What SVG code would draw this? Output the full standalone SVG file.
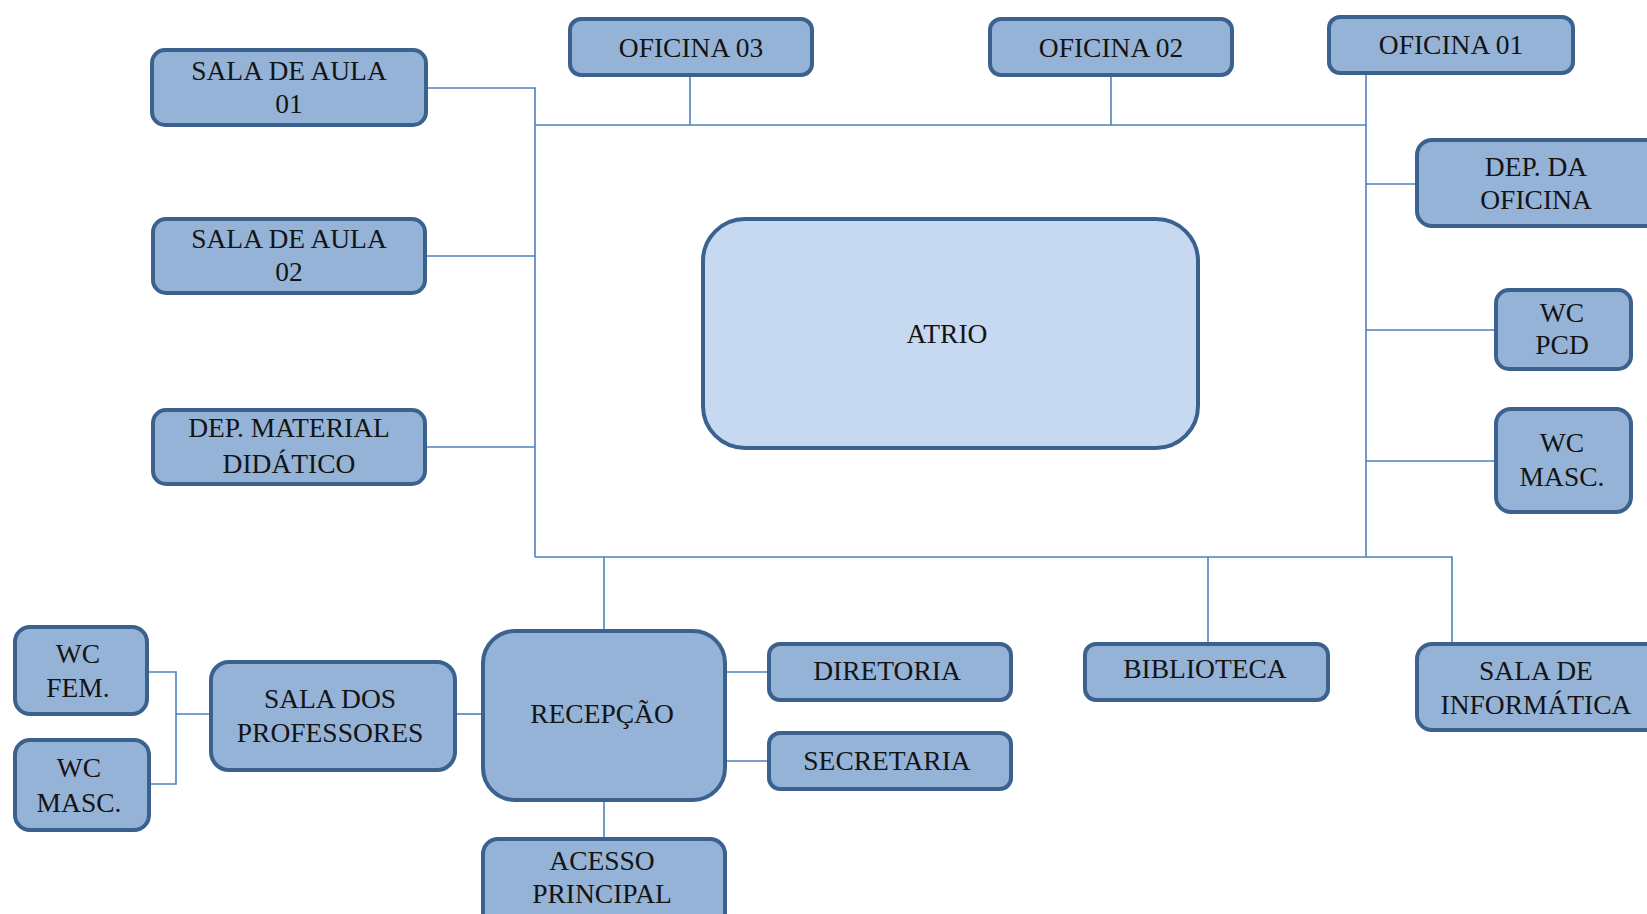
<svg xmlns="http://www.w3.org/2000/svg" width="1647" height="914" viewBox="0 0 1647 914">
<style>
.box{fill:#95b3d7;stroke:#3b618f;stroke-width:4}
.atrio{fill:#c6d9f1;stroke:#3b618f;stroke-width:4}
.c{fill:none;stroke:#4f81bd;stroke-width:1.6}
.t text{font-family:'Liberation Serif','Times New Roman',Times,serif;font-size:27.5px;fill:#141414;text-anchor:middle}
</style>
<rect width="1647" height="914" fill="#ffffff"/>
<g id="connectors">
<path class="c" d="M428,88 H535 V557"/>
<path class="c" d="M535,125 H1366"/>
<path class="c" d="M690,76 V125"/>
<path class="c" d="M1111,76 V125"/>
<path class="c" d="M1366,75 V557"/>
<path class="c" d="M1366,184 H1415"/>
<path class="c" d="M1366,330 H1494"/>
<path class="c" d="M1366,461 H1494"/>
<path class="c" d="M427,256 H535"/>
<path class="c" d="M427,447 H535"/>
<path class="c" d="M535,557 H1452 V642"/>
<path class="c" d="M604,557 V629"/>
<path class="c" d="M1208,557 V642"/>
<path class="c" d="M604,802 V837"/>
<path class="c" d="M727,672 H767"/>
<path class="c" d="M727,761 H767"/>
<path class="c" d="M457,714 H481"/>
<path class="c" d="M149,672 H176 V784 H151"/>
<path class="c" d="M176,714 H209"/>
</g>
<g class="t" font-family="Liberation Serif, serif">
<g id="sala01"><rect class="box" x="152" y="50" width="274" height="75" rx="13"/><text x="289" y="80">SALA DE AULA</text><text x="289" y="113">01</text></g>
<g id="sala02"><rect class="box" x="153" y="219" width="272" height="74" rx="13"/><text x="289" y="248">SALA DE AULA</text><text x="289" y="281">02</text></g>
<g id="depmaterial"><rect class="box" x="153" y="410" width="272" height="74" rx="13"/><text x="289" y="437">DEP. MATERIAL</text><text x="289" y="473">DIDÁTICO</text></g>
<g id="oficina03"><rect class="box" x="570" y="19" width="242" height="56" rx="11"/><text x="691" y="57">OFICINA 03</text></g>
<g id="oficina02"><rect class="box" x="990" y="19" width="242" height="56" rx="11"/><text x="1111" y="57">OFICINA 02</text></g>
<g id="oficina01"><rect class="box" x="1329" y="17" width="244" height="56" rx="11"/><text x="1451" y="54">OFICINA 01</text></g>
<g id="depoficina"><rect class="box" x="1417" y="140" width="244" height="86" rx="15"/><text x="1536" y="176">DEP. DA</text><text x="1536" y="209">OFICINA</text></g>
<g id="atrio"><rect class="atrio" x="703" y="219" width="495" height="229" rx="42"/><text x="947" y="343">ATRIO</text></g>
<g id="wcpcd"><rect class="box" x="1496" y="290" width="135" height="79" rx="13"/><text x="1562" y="322">WC</text><text x="1562" y="354">PCD</text></g>
<g id="wcmasc1"><rect class="box" x="1496" y="409" width="135" height="103" rx="15"/><text x="1562" y="452">WC</text><text x="1562" y="486">MASC.</text></g>
<g id="wcfem"><rect class="box" x="15" y="627" width="132" height="87" rx="15"/><text x="78" y="663">WC</text><text x="78" y="697">FEM.</text></g>
<g id="wcmasc2"><rect class="box" x="15" y="740" width="134" height="90" rx="15"/><text x="79" y="777">WC</text><text x="79" y="812">MASC.</text></g>
<g id="salaprof"><rect class="box" x="211" y="662" width="244" height="108" rx="18"/><text x="330" y="708">SALA DOS</text><text x="330" y="742">PROFESSORES</text></g>
<g id="recepcao"><rect class="box" x="483" y="631" width="242" height="169" rx="32"/><text x="602" y="723">RECEPÇÃO</text></g>
<g id="acesso"><rect class="box" x="483" y="839" width="242" height="90" rx="15"/><text x="602" y="870">ACESSO</text><text x="602" y="903">PRINCIPAL</text></g>
<g id="diretoria"><rect class="box" x="769" y="644" width="242" height="56" rx="11"/><text x="887" y="680">DIRETORIA</text></g>
<g id="secretaria"><rect class="box" x="769" y="733" width="242" height="56" rx="11"/><text x="887" y="770">SECRETARIA</text></g>
<g id="biblioteca"><rect class="box" x="1085" y="644" width="243" height="56" rx="11"/><text x="1205" y="678">BIBLIOTECA</text></g>
<g id="salainfo"><rect class="box" x="1417" y="644" width="244" height="86" rx="15"/><text x="1536" y="680">SALA DE</text><text x="1536" y="714">INFORMÁTICA</text></g>
</g>
</svg>
